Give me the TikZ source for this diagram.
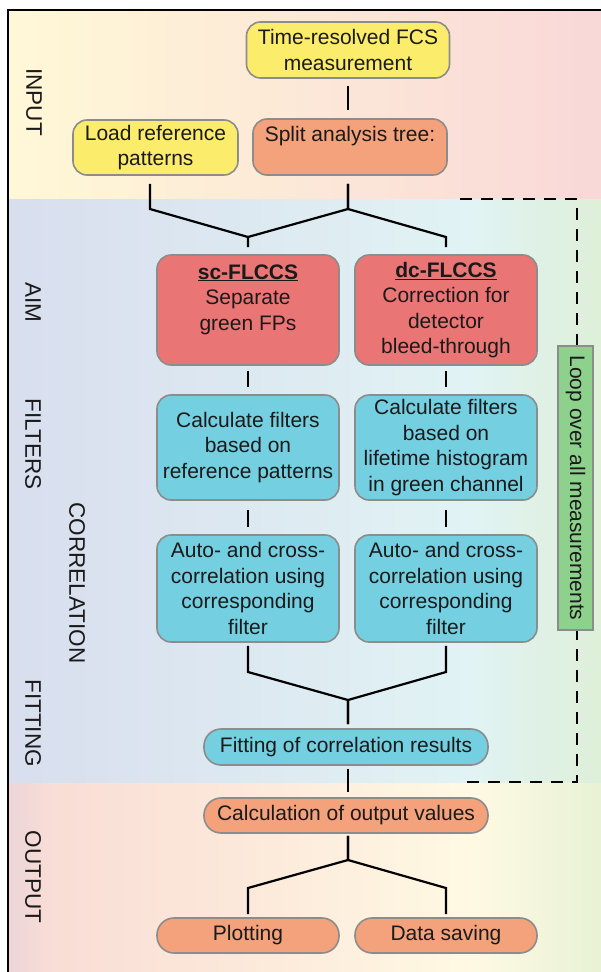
\documentclass[tikz,border=0pt]{standalone}
\usepackage{fontspec}
\setmainfont{Liberation Sans}
\usetikzlibrary{calc}
\definecolor{yel}{HTML}{FCEC6C}
\definecolor{ora}{HTML}{F3A27B}
\definecolor{redb}{HTML}{EA7575}
\definecolor{cyn}{HTML}{74CFE0}
\definecolor{grn}{HTML}{8DD18D}
\definecolor{boxgray}{HTML}{8C8C8C}
\definecolor{txt}{HTML}{1A1A1A}
\definecolor{inL}{HTML}{FFF8D7}
\definecolor{inR}{HTML}{F9D8D8}
\definecolor{midL}{HTML}{D8DEEE}
\definecolor{midC}{HTML}{E1F3F4}
\definecolor{midR}{HTML}{DEF0D8}
\definecolor{outA}{HTML}{ECD5D9}
\definecolor{outB}{HTML}{F9DDD6}
\definecolor{outC}{HTML}{FCE9DA}
\definecolor{outD}{HTML}{FFF9E3}
\definecolor{outE}{HTML}{E8F2D5}
\begin{document}
\begin{tikzpicture}[x=1pt,y=-1pt,
  box/.style={draw=boxgray, line width=1.6pt, rounded corners=14pt, align=center,
    inner sep=0pt, font=\fontsize{21}{25.5}\selectfont, text=txt},
  pill/.style={box, rounded corners=17pt},
  loopbox/.style={draw=boxgray, line width=1.6pt, fill=grn, rotate=-90, inner sep=0pt,
    font=\fontsize{21}{25.5}\selectfont, text=txt, minimum width=284pt, minimum height=35pt},
  conn/.style={line width=2.2pt, black},
  lab/.style={rotate=-90, font=\fontsize{22.5}{27}\selectfont, text=txt, inner sep=0pt},
]
\useasboundingbox (0,0) rectangle (601,972);
\fill[white] (0,0) rectangle (601,972);
% background bands
\shade[left color=inL, right color=inR] (8,10) rectangle (601,199.5);
\shade[left color=midL, right color=midC] (8,199) rectangle (470.5,783.5);
\shade[left color=midC, right color=midR] (470,199) rectangle (601,783.5);
\shade[left color=outA, right color=outB] (8,783) rectangle (50.5,972);
\shade[left color=outB, right color=outC] (50,783) rectangle (250.5,972);
\shade[left color=outC, right color=outD] (250,783) rectangle (470.5,972);
\shade[left color=outD, right color=outE] (470,783) rectangle (601,972);
% frame
\draw[line width=2.2pt] (8,975) -- (8,10) -- (605,10);

% labels
\node[lab] (lInput) at (34,102) {INPUT};
\node[lab] (lAim) at (33,302) {AIM};
\node[lab] (lFilt) at (33,444) {FILTERS};
\node[lab] (lCorr) at (77,583) {CORRELATION};
\node[lab] (lFit) at (33,723) {FITTING};
\node[lab] (lOut) at (33,877) {OUTPUT};

% dashed loop frame
\coordinate (dA) at (460,199);
\coordinate (dB) at (577,199);
\coordinate (dC) at (577,782);
\coordinate (dD) at (460,782);
\draw[line width=2pt, dash pattern=on 12pt off 9pt] (dA) -- (dB) -- (dC) -- (dD);

% nodes
\node[box, fill=yel, minimum width=203pt, minimum height=56pt] (time) at (348,50) {Time-resolved FCS\\measurement};
\node[box, fill=yel, minimum width=165pt, minimum height=55pt] (load) at (155.5,147.5) {Load reference\\patterns};
\node[box, fill=ora, minimum width=194pt, minimum height=56pt] (split) at (350,147) {Split analysis tree:\\\mbox{}};

\node[box, fill=redb, minimum width=182pt, minimum height=110pt] (sc) at (248,310) {\underline{\textbf{sc-FLCCS}}\\Separate\\green FPs\\\mbox{}};
\node[box, fill=redb, minimum width=182pt, minimum height=110pt] (dc) at (446,310) {\underline{\textbf{dc-FLCCS}}\\Correction for\\detector\\bleed-through};

\node[box, fill=cyn, minimum width=182pt, minimum height=105pt] (scf) at (248,447.5) {Calculate filters\\based on\\reference patterns};
\node[box, fill=cyn, minimum width=182pt, minimum height=105pt] (dcf) at (446,447.5) {Calculate filters\\based on\\lifetime histogram\\in green channel};

\node[box, fill=cyn, minimum width=182pt, minimum height=107pt] (scc) at (248,588.5) {Auto- and cross-\\correlation using\\corresponding\\filter};
\node[box, fill=cyn, minimum width=182pt, minimum height=107pt] (dcc) at (446,588.5) {Auto- and cross-\\correlation using\\corresponding\\filter};

\node[pill, fill=cyn, minimum width=284pt, minimum height=36pt] (fit) at (346,747) {Fitting of correlation results};
\node[pill, fill=ora, minimum width=284pt, minimum height=35pt] (calc) at (346,815.5) {Calculation of output values};
\node[pill, fill=ora, minimum width=182pt, minimum height=35pt] (plot) at (248,935.5) {Plotting};
\node[pill, fill=ora, minimum width=182pt, minimum height=35pt] (data) at (446,935.5) {Data saving};

\node[loopbox] (loop) at (575.5,488) {Loop over all measurements};

% junction coordinates
\coordinate (jL) at (150,209);
\coordinate (jS) at (348,209);
\coordinate (jsc) at (248,237);
\coordinate (jdc) at (446,237);
\coordinate (jFa) at (248,672);
\coordinate (jFb) at (446,672);
\coordinate (jF) at (348,700);
\coordinate (jO) at (348,860);
\coordinate (jOa) at (248,888);
\coordinate (jOb) at (446,888);

% connectors
\draw[conn, shorten <=7pt, shorten >=8pt] (time.south -| jS) -- (split.north -| jS);
\draw[conn, shorten <=8pt, shorten >=7pt] (load.south -| jL) -- (jL) -- (jsc) -- (sc.north);
\draw[conn, shorten <=8pt] (split.south -| jS) -- (jS) -- (jsc);
\draw[conn, shorten <=8pt, shorten >=7pt] (split.south -| jS) -- (jS) -- (jdc) -- (dc.north);

\draw[conn, shorten <=5pt, shorten >=7pt] (sc) -- (scf);
\draw[conn, shorten <=5pt, shorten >=7pt] (dc) -- (dcf);
\draw[conn, shorten <=9pt, shorten >=7pt] (scf) -- (scc);
\draw[conn, shorten <=9pt, shorten >=7pt] (dcf) -- (dcc);

\draw[conn, shorten <=3pt, shorten >=4pt] (scc.south) -- (jFa) -- (jF) -- (fit.north -| jF);
\draw[conn, shorten <=3pt, shorten >=4pt] (dcc.south) -- (jFb) -- (jF) -- (fit.north -| jF);
\draw[conn, shorten <=3pt, shorten >=5pt] (fit.south -| jF) -- (calc.north -| jF);
\draw[conn, shorten <=2pt, shorten >=3pt] (calc.south -| jO) -- (jO) -- (jOa) -- (plot.north);
\draw[conn, shorten <=2pt, shorten >=3pt] (calc.south -| jO) -- (jO) -- (jOb) -- (data.north);
\end{tikzpicture}
\end{document}
